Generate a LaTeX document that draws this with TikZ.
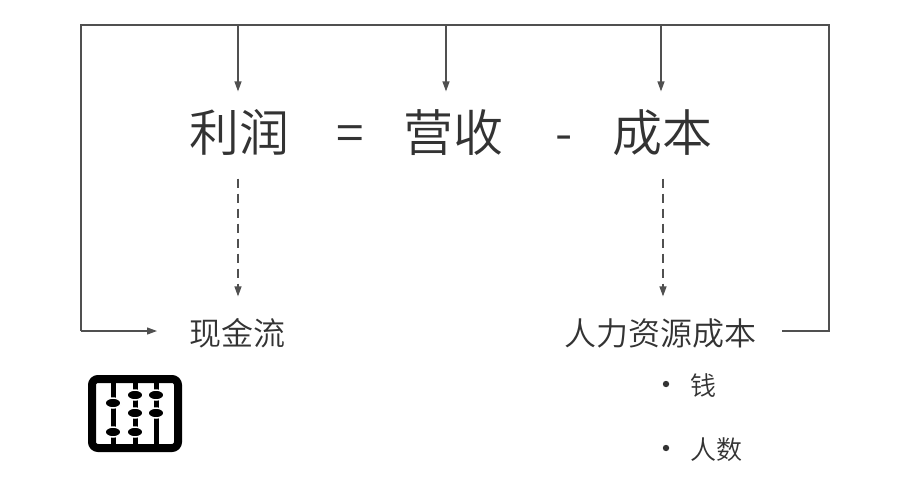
\documentclass[tikz,border=0pt]{standalone}
\usepackage{fontspec}
\setmainfont{Noto Sans CJK SC}[UprightFont={* DemiLight}]
\usepackage{xcolor}
\definecolor{tekst}{HTML}{333333}
\definecolor{linje}{HTML}{505050}
\usetikzlibrary{arrows.meta}
\tikzset{
  term/.style={inner sep=0pt,anchor=base,text height=59pt,text depth=27pt,text=tekst,font=\fontsize{50}{60}\selectfont},
  post/.style={inner sep=0pt,anchor=base,text height=48pt,text depth=0pt,text=tekst,font=\fontsize{32}{40}\selectfont},
  punkt/.style={inner sep=0pt,anchor=base west,text=tekst,font=\fontsize{26}{30}\selectfont},
}

\begin{document}
\begin{tikzpicture}[x=1pt,y=-1pt,>={Triangle[length=10pt,width=7pt]},line width=1.2pt,draw=linje]
\useasboundingbox (0,0) rectangle (901,501);

\node[term] (profit) at (239,151) {利润};
\node[term] (eq) at (350,151) {=};
\node[term] (revenue) at (453,151) {营收};
\node[term] (minus) at (564,151) {-};
\node[term] (cost) at (662,151) {成本};

\node[post] (cashflow) at (237,345) {现金流};
\node[post] (hrcost) at (660,345) {人力资源成本};

\node[punkt] (money) at (690,395) {钱};
\node[punkt] (headcount) at (690,459) {人数};
\fill[tekst] ([xshift=-24pt,yshift=11pt]money.base west) circle (3.2pt);
\fill[tekst] ([xshift=-24pt,yshift=11pt]headcount.base west) circle (3.2pt);

% feedback loop
\coordinate (topL) at (81,25);
\coordinate (topR) at (829,25);
\coordinate (botL) at (81,331);
\coordinate (botR) at (829,331);
\coordinate (inL) at (157,331);
\coordinate (outR) at (782,331);

\draw (botL) -- (topL) -- (topR) -- (botR) -- (outR);
\draw[->] (botL) -- (inL);

\draw[->] ([xshift=-1pt]profit.north |- topL) -- ([xshift=-1pt]profit.north);
\draw[->] ([xshift=-7pt]revenue.north |- topL) -- ([xshift=-7pt]revenue.north);
\draw[->] ([xshift=-1pt]cost.north |- topL) -- ([xshift=-1pt]cost.north);

\draw[->,dash pattern=on 9pt off 6pt] ([xshift=-1pt]profit.south) -- ([xshift=-1pt]profit.south |- cashflow.north);
\draw[->,dash pattern=on 9pt off 6pt] ([xshift=1pt]cost.south) -- ([xshift=1pt]cost.south |- hrcost.north);

% abacus
\draw[black,line width=8pt,rounded corners=6pt] (92,379) rectangle (178,448);
\foreach \x in {113,135,156}
  \draw[black,line width=5pt] (\x,383) -- (\x,444);
\foreach \x/\y in {113/403,113/432,135/395,135/413,135/432,156/395,156/413}
  \filldraw[black,draw=white,line width=1.5pt] (\x,\y) ellipse [x radius=8pt,y radius=5pt];
\end{tikzpicture}
\end{document}
